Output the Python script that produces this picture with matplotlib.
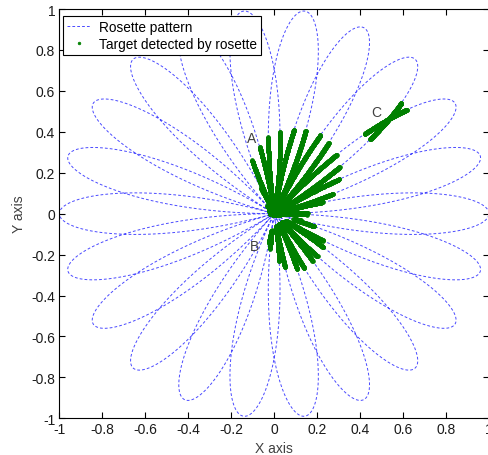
import numpy as np
import matplotlib
matplotlib.use("Agg")
import matplotlib.pyplot as plt
from matplotlib.path import Path

plt.rcParams['font.family'] = ['Liberation Sans', 'DejaVu Sans']
plt.rcParams['axes.unicode_minus'] = False
plt.rcParams['lines.scale_dashes'] = False

# ---- rosette scan parameters (22 petals, radius 1) ----
freq_1 = 13
freq_2 = 9
rosette_radius = 1.0
n_samples = 40000

# ---- target outlines (data coordinates) ----
target_a_x = [0.00, 0.15, 0.165, 0.25, 0.285, 0.305, 0.305, 0.29, 0.255, 0.215,
              0.15, 0.095, 0.03, -0.03, -0.07, -0.105, -0.02]
target_a_y = [-0.008, -0.008, 0.02, 0.07, 0.108, 0.17, 0.228, 0.292, 0.347, 0.385,
              0.405, 0.412, 0.402, 0.372, 0.322, 0.258, 0.0]
target_b_x = [-0.03, 0.03, 0.10, 0.18, 0.228, 0.233, 0.203, 0.14, 0.10, 0.045, -0.022]
target_b_y = [-0.10, -0.04, -0.025, -0.052, -0.118, -0.16, -0.21, -0.268, -0.272, -0.262, -0.17]
target_c_center = (0.515, 0.455)
target_c_radius = 0.115

# ---- labels ----
point_labels = ['A', 'B', 'C']
point_label_x = [-0.107, -0.093, 0.473]
point_label_y = [0.372, -0.157, 0.495]
tick_values = [-1, -0.8, -0.6, -0.4, -0.2, 0, 0.2, 0.4, 0.6, 0.8, 1]
tick_labels = ['-1', '-0.8', '-0.6', '-0.4', '-0.2', '0', '0.2', '0.4', '0.6', '0.8', '1']

# ---- build rosette ----
t = np.linspace(0, 2 * np.pi, n_samples)
x = rosette_radius * (np.cos(freq_1 * t) + np.cos(freq_2 * t)) / 2
y = rosette_radius * (np.sin(freq_1 * t) - np.sin(freq_2 * t)) / 2
pts = np.column_stack([x, y])

path_a = Path(np.column_stack([target_a_x, target_a_y]))
path_b = Path(np.column_stack([target_b_x, target_b_y]))
in_a = path_a.contains_points(pts)
in_b = path_b.contains_points(pts)
in_c = np.hypot(x - target_c_center[0], y - target_c_center[1]) < target_c_radius
hit = in_a | in_b | in_c

fig = plt.figure(figsize=(4.88, 4.56), dpi=100)
ax = fig.add_axes([59.3 / 488, (456 - 419.3) / 456, 429.7 / 488, 409.3 / 456])

ax.plot(x, y, color='#4a4aff', lw=0.7, dashes=(2.0, 1.5), label='Rosette pattern', zorder=2)
ax.plot(x[hit], y[hit], linestyle='none', marker='.', markersize=5.5, color='#008000',
        markeredgewidth=0.5, label='Target detected by rosette', zorder=3)

for lab, lx, ly in zip(point_labels, point_label_x, point_label_y):
    ax.text(lx, ly, lab, fontsize=10, color='#404040', ha='center', va='center')

ax.set_xlim(-1, 1)
ax.set_ylim(-1, 1)
ax.set_xticks(tick_values)
ax.set_xticklabels(tick_labels)
ax.set_yticks(tick_values)
ax.set_yticklabels(tick_labels)
ax.tick_params(direction='in', length=4, width=0.8, top=True, right=True,
               labelsize=10, labelcolor='#1a1a1a', pad=3)
for s in ax.spines.values():
    s.set_linewidth(0.8)
ax.set_xlabel('X axis', fontsize=10, color='#404040', labelpad=3)
ax.set_ylabel('Y axis', fontsize=10, color='#404040', labelpad=4)

leg = ax.legend(loc='upper left', bbox_to_anchor=(0.0086, 0.983), borderaxespad=0,
                fontsize=9.8, fancybox=False, framealpha=1, edgecolor='black',
                handlelength=1.75, handletextpad=0.6, labelspacing=0.2,
                borderpad=0.3, markerscale=0.7)
leg.get_frame().set_linewidth(0.8)

fig.savefig('out.png', dpi=100, facecolor='white')
